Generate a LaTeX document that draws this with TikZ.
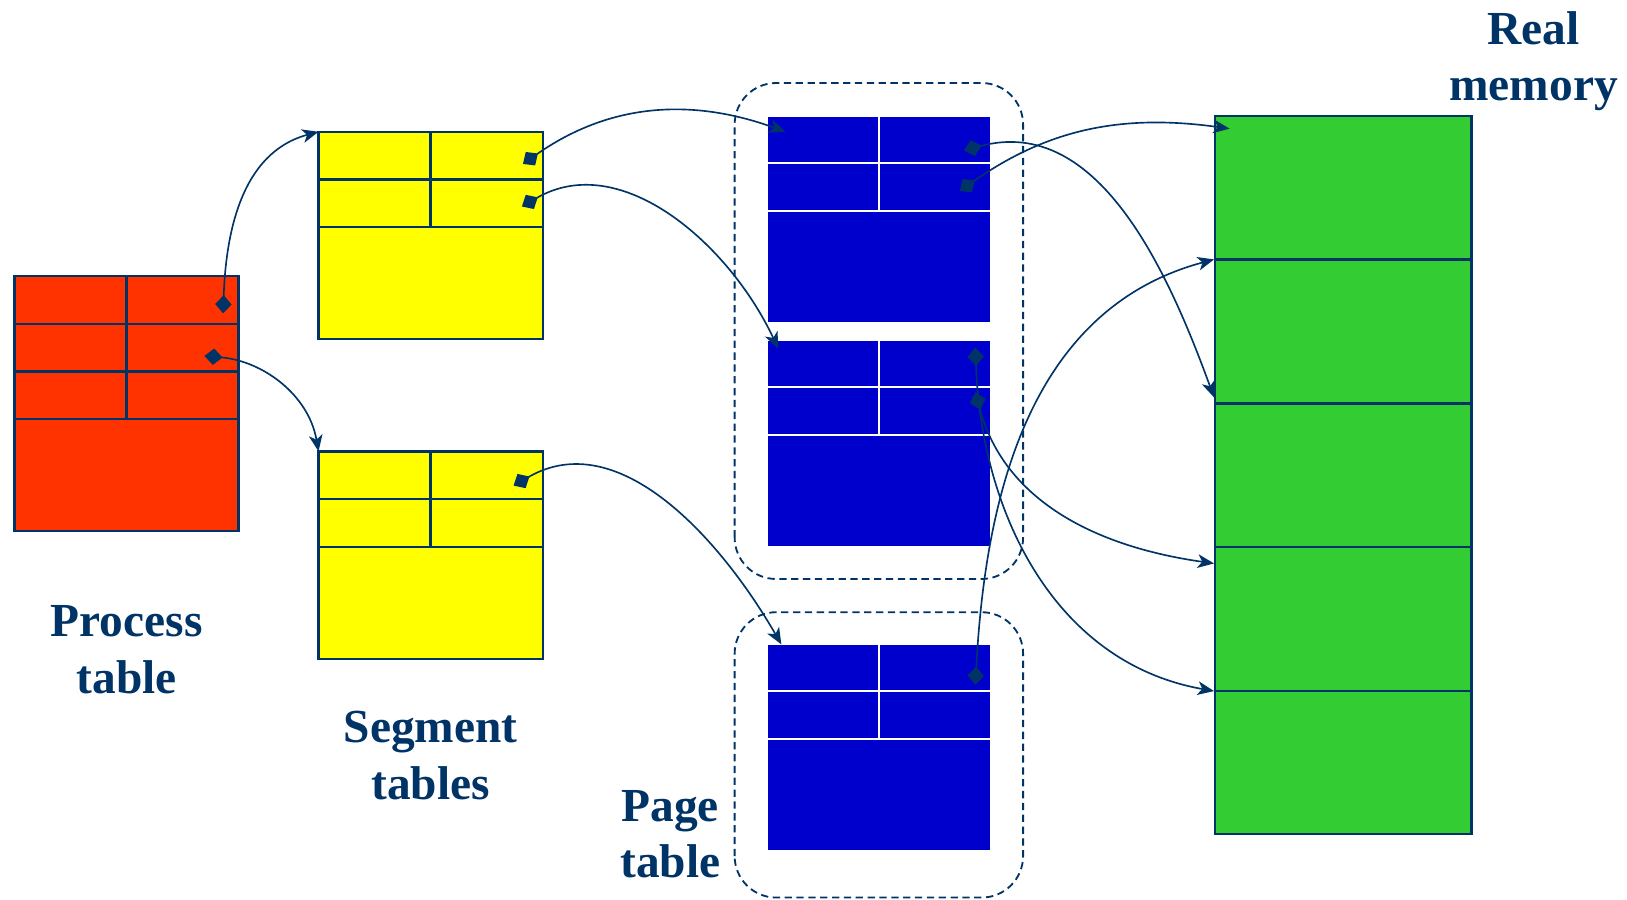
\documentclass[tikz,border=0pt]{standalone}
\usepackage{fontspec}
\setmainfont{Liberation Serif}
\usetikzlibrary{arrows.meta}

\definecolor{navy}{RGB}{0,51,102}
\definecolor{procred}{RGB}{255,51,0}
\definecolor{segyellow}{RGB}{255,255,0}
\definecolor{pageblue}{RGB}{0,0,204}
\definecolor{memgreen}{RGB}{51,204,51}

\begin{document}
\begin{tikzpicture}[x=0.02cm, y=0.02cm,
    every node/.style={text=navy, font=\fontsize{26}{31}\selectfont\bfseries, align=center},
    tab/.style={draw=navy, line width=1.3pt},
    ptr/.style={draw=navy, line width=0.9pt, looseness=1,
        {Diamond[length=10pt,width=9pt]}-{Stealth[length=9pt,width=7.5pt,inset=2.5pt]}}]
    \useasboundingbox (0,0) rectangle (1568,867);

    % process table
    \draw[tab, fill=procred] (14,355) rectangle (230,601);
    \draw[tab] (14,555) -- (230,555) (14,509) -- (230,509) (14,463) -- (230,463) (122,601) -- (122,463);

    % segment tables
    \foreach \y in {740,432} {
        \draw[tab, fill=segyellow] (307,\y) rectangle (523,\y-200);
        \draw[tab] (307,\y-46) -- ++(216,0) (307,\y-92) -- ++(216,0) (415,\y) -- ++(0,-92);
    }

    % page tables
    \draw[navy, line width=1pt, dash pattern=on 4pt off 2.5pt, rounded corners=0.8cm] (708,309) rectangle (986,787);
    \draw[navy, line width=1pt, dash pattern=on 4pt off 2.5pt, rounded corners=0.8cm] (708,2) rectangle (986,277);
    \foreach \y in {754,538,245} {
        \fill[pageblue] (740,\y) rectangle (954,\y-197);
        \draw[white, line width=1.2pt] (740,\y-44) -- ++(214,0) (740,\y-90) -- ++(214,0) (847,\y) -- ++(0,-90);
    }

    % real memory
    \draw[tab, fill=memgreen] (1171,63) rectangle (1418,755);
    \foreach \y in {617,478,340,201}
        \draw[tab] (1171,\y) -- (1418,\y);

    % labels
    \node (proclbl) at (122,241) {Process\\table};
    \node (seglbl) at (415,139) {Segment\\tables};
    \node (pagelbl) at (646,63) {Page\\table};
    \node (memlbl) at (1478,808) {Real\\memory};

    % pointer ends
    \coordinate (pt1) at (215,565);
    \coordinate (pt2) at (197,524);
    \coordinate (seg1) at (307,740);
    \coordinate (seg2) at (307,432);
    \coordinate (sg1a) at (504,709);
    \coordinate (sg1b) at (503,668);
    \coordinate (sg2a) at (495,399);
    \coordinate (pg1) at (757,740);
    \coordinate (pg2) at (750,531);
    \coordinate (pg3) at (753,246);
    \coordinate (pg1a) at (929,722);
    \coordinate (pg1b) at (925,683);
    \coordinate (pg2a) at (940,532);
    \coordinate (pg2b) at (940,489);
    \coordinate (pg3a) at (940,207);
    \coordinate (fr0) at (1185,743);
    \coordinate (fr1) at (1170,617);
    \coordinate (fr2) at (1170,484);
    \coordinate (fr3) at (1170,324);
    \coordinate (fr4) at (1170,201);

    % pointers
    \draw[ptr] (pt1) to[out=88, in=195] (seg1);
    \draw[ptr] (pt2) to[out=-5, in=100] (seg2);
    \draw[ptr] (sg1a) to[out=35, in=160] (pg1);
    \draw[ptr] (sg1b) to[out=30, in=115] (pg2);
    \draw[ptr] (sg2a) to[out=30, in=120] (pg3);
    \draw[ptr] (pg1a) to[out=15, in=110] (fr2);
    \draw[ptr] (pg1b) to[out=35, in=172] (fr0);
    \draw[ptr] (pg3a) to[out=87, in=195] (fr1);
    \draw[ptr] (pg2a) to[out=-88, in=170] (fr4);
    \draw[ptr] (pg2b) to[out=-75, in=172] (fr3);
\end{tikzpicture}
\end{document}
